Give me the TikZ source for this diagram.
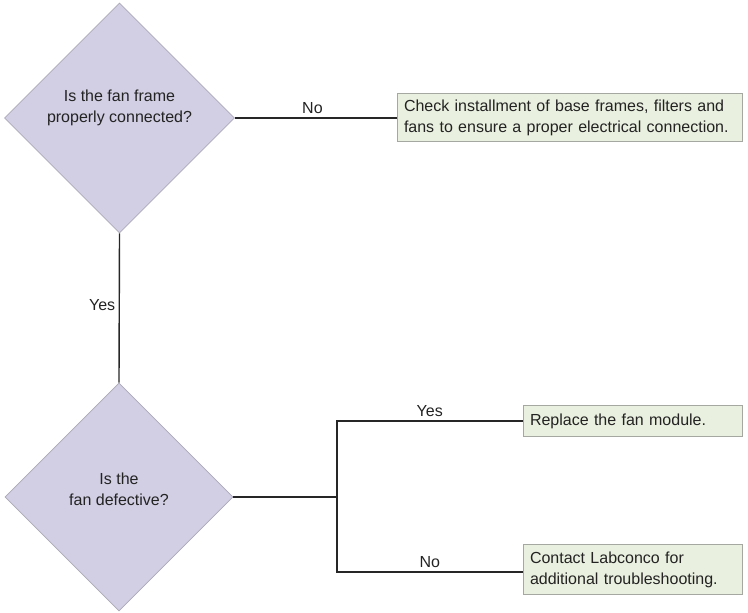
\documentclass[tikz,border=0pt]{standalone}
\usepackage{fontspec}
\setmainfont{Liberation Sans}
\usepackage{tikz}
\usetikzlibrary{calc,positioning,shapes.geometric}
\usepackage{xcolor}
\definecolor{mylavender}{RGB}{210,206,227}
\definecolor{mylavline}{RGB}{172,170,184}
\definecolor{mygreen}{RGB}{233,240,223}
\definecolor{mygreenline}{RGB}{165,168,160}
\definecolor{mytext}{RGB}{35,35,35}

\begin{document}
\begin{tikzpicture}[x=1pt, y=1pt, font=\fontsize{16}{21}\selectfont, text=mytext,
  decision/.style={diamond, draw=mylavline, fill=mylavender, line width=0.8pt,
    aspect=1, inner sep=0pt, minimum size=#1},
  action/.style={rectangle, draw=mygreenline, fill=mygreen, line width=1pt,
    align=left, inner sep=0pt, minimum height=#1, text width=205pt},
  flow/.style={line width=1.4pt, draw=black!85}]
  \useasboundingbox (0,0) rectangle (748,613);

  % Decisions
  \node[decision=230pt] (frame) at (119.5,495) {};
  \node[align=center] (frameq) at (119.5,505) {Is the fan frame\\properly connected?};
  \node[decision=228pt] (defect) at (119,116) {};
  \node[align=center] (defectq) at (119,124) {Is the\\fan defective?};

  % Actions
  \node[action=48pt, text width=331pt, minimum width=345pt] (check) at (569.5,495)
    {Check installment of base frames, filters and\\fans to ensure a proper electrical connection.};
  \node[action=31pt, minimum width=219pt] (replace) at (632.5,192)
    {Replace the fan module.};
  \node[action=50pt, minimum width=219pt] (contact) at (632.5,43)
    {Contact Labconco for\\additional troubleshooting.};

  % Connectors
  \coordinate (split) at (337,116);
  \draw[flow] (frame.east) -- node[above, pos=0.48] {No} (check.west);
  \draw[flow] (frame.south) -- node[left, pos=0.48] {Yes} (defect.north);
  \draw[flow] (defect.east) -- (split);
  \draw[flow] (split) |- node[above, pos=0.75] {Yes} (replace.west);
  \draw[flow] (split) |- node[above, pos=0.75] {No} ($(contact.west)+(0,-2)$);
\end{tikzpicture}
\end{document}
